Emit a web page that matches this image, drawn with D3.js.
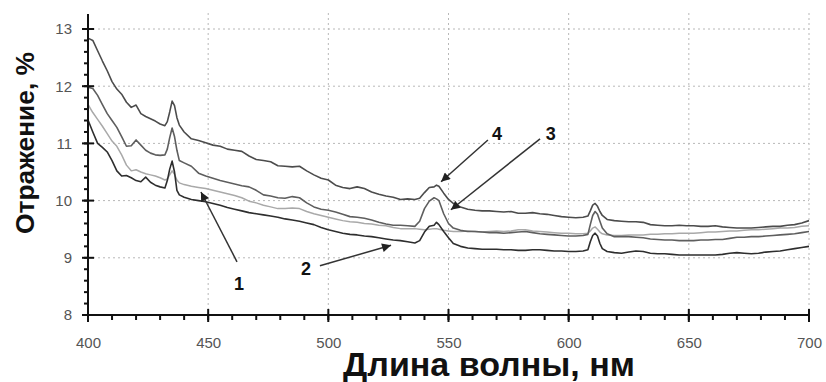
<!DOCTYPE html>
<html>
<head>
<meta charset="utf-8">
<script src="https://cdn.jsdelivr.net/npm/d3@7"></script>
<style>
  html, body { margin: 0; padding: 0; background: #fff; }
  svg { display: block; }
  text { font-family: "Liberation Sans", Arial, sans-serif; }
</style>
</head>
<body>
<svg id="chart" width="826" height="382"></svg>
<script>
// Wavelength grid (nm)
const wavelengths = [
  400,402,404,406,408,410,412,414,416,418,
  420,422,424,426,428,430,432,433,434,435,
  436,437,438,440,443,446,449,452,455,458,
  461,464,467,470,473,476,479,482,485,488,
  491,494,497,500,503,506,509,512,515,518,
  521,524,527,530,533,536,538,540,542,544,
  545,546,548,550,552,555,558,561,564,567,
  570,573,576,579,582,585,588,591,594,597,
  600,603,606,608,609,610,611,612,613,614,
  616,619,622,625,628,631,634,637,640,643,
  646,649,652,655,658,661,664,667,670,673,
  676,679,682,685,688,691,694,697,700
];

// Reflectance, % — sample 4
const curve4 = [
  12.84,12.80,12.62,12.44,12.27,12.08,11.95,11.86,11.72,11.63,
  11.67,11.52,11.47,11.43,11.39,11.34,11.31,11.38,11.55,11.74,
  11.66,11.45,11.32,11.20,11.08,11.05,11.01,10.97,10.95,10.90,
  10.88,10.86,10.78,10.72,10.70,10.68,10.61,10.60,10.59,10.60,
  10.52,10.45,10.39,10.36,10.27,10.23,10.21,10.24,10.21,10.15,
  10.11,10.08,10.06,10.02,10.03,10.02,10.04,10.14,10.23,10.24,
  10.27,10.25,10.13,10.02,9.95,9.89,9.85,9.83,9.82,9.82,
  9.81,9.80,9.81,9.78,9.78,9.79,9.77,9.76,9.74,9.72,
  9.71,9.70,9.71,9.73,9.82,9.92,9.95,9.90,9.81,9.74,
  9.67,9.65,9.64,9.63,9.63,9.62,9.58,9.57,9.56,9.56,
  9.57,9.56,9.56,9.55,9.55,9.56,9.54,9.53,9.52,9.52,
  9.52,9.53,9.54,9.55,9.55,9.57,9.58,9.61,9.65
];

// Reflectance, % — sample 3
const curve3 = [
  11.98,11.96,11.84,11.68,11.52,11.40,11.28,11.12,10.95,10.96,
  11.06,10.97,10.88,10.83,10.80,10.79,10.80,10.90,11.10,11.27,
  11.12,10.88,10.70,10.66,10.60,10.48,10.43,10.39,10.35,10.32,
  10.29,10.26,10.24,10.18,10.10,10.08,10.05,10.04,10.07,10.05,
  9.96,9.89,9.85,9.83,9.80,9.76,9.72,9.71,9.69,9.66,
  9.62,9.59,9.57,9.57,9.56,9.55,9.64,9.86,9.99,10.05,
  10.03,10.00,9.77,9.60,9.52,9.48,9.46,9.46,9.45,9.44,
  9.44,9.43,9.44,9.45,9.46,9.44,9.42,9.41,9.40,9.39,
  9.38,9.38,9.39,9.41,9.58,9.74,9.81,9.76,9.64,9.52,
  9.42,9.37,9.37,9.37,9.36,9.35,9.33,9.32,9.31,9.31,
  9.30,9.30,9.30,9.31,9.31,9.32,9.32,9.34,9.36,9.36,
  9.37,9.37,9.38,9.39,9.40,9.41,9.42,9.44,9.46
];

// Reflectance, % — sample 1
const curve1 = [
  11.68,11.54,11.42,11.30,11.17,11.04,10.95,10.80,10.62,10.52,
  10.54,10.50,10.47,10.45,10.43,10.40,10.36,10.38,10.45,10.52,
  10.46,10.36,10.31,10.28,10.25,10.23,10.21,10.18,10.15,10.12,
  10.09,10.05,9.99,9.96,9.92,9.89,9.86,9.86,9.87,9.86,
  9.81,9.77,9.74,9.71,9.68,9.65,9.63,9.62,9.60,9.59,
  9.57,9.56,9.53,9.51,9.51,9.51,9.50,9.49,9.50,9.51,
  9.51,9.50,9.48,9.47,9.46,9.46,9.47,9.46,9.45,9.46,
  9.47,9.46,9.47,9.49,9.49,9.47,9.46,9.45,9.44,9.43,
  9.43,9.42,9.42,9.43,9.47,9.52,9.54,9.50,9.45,9.42,
  9.40,9.39,9.39,9.40,9.40,9.40,9.41,9.41,9.42,9.42,
  9.43,9.43,9.43,9.44,9.45,9.45,9.46,9.47,9.47,9.48,
  9.49,9.49,9.50,9.51,9.52,9.52,9.53,9.55,9.56
];

// Reflectance, % — sample 2
const curve2 = [
  11.41,11.20,11.00,10.93,10.85,10.70,10.52,10.43,10.44,10.40,
  10.35,10.33,10.41,10.32,10.27,10.24,10.22,10.35,10.55,10.69,
  10.50,10.18,10.10,10.06,10.02,10.00,9.98,9.95,9.92,9.88,
  9.85,9.82,9.79,9.77,9.75,9.73,9.71,9.68,9.66,9.64,
  9.61,9.58,9.53,9.49,9.46,9.43,9.41,9.40,9.38,9.37,
  9.35,9.33,9.31,9.30,9.28,9.26,9.30,9.45,9.55,9.57,
  9.62,9.58,9.46,9.35,9.25,9.20,9.17,9.16,9.15,9.15,
  9.15,9.14,9.14,9.13,9.13,9.14,9.14,9.13,9.12,9.12,
  9.11,9.11,9.12,9.14,9.28,9.39,9.43,9.38,9.25,9.16,
  9.11,9.09,9.08,9.10,9.12,9.11,9.08,9.07,9.07,9.06,
  9.05,9.05,9.05,9.05,9.05,9.05,9.06,9.08,9.09,9.08,
  9.07,9.08,9.10,9.11,9.12,9.14,9.16,9.18,9.20
];

const xTicks = [400, 450, 500, 550, 600, 650, 700];
const yTicks = [8, 9, 10, 11, 12, 13];
const xMinorTicks = d3.range(400, 701, 10);
const yMinorTicks = d3.range(8, 13.01, 0.2);

// Arrow annotations: label text, label anchor, arrow tail and tip (data units)
const callouts = [
  { label: "1", lx: 462.8, ly: 8.44, from: [462.0, 8.93], to: [447.0, 10.15] },
  { label: "2", lx: 490.7, ly: 8.70, from: [496.5, 8.86], to: [526.1, 9.22] },
  { label: "4", lx: 570.2, ly: 11.06, from: [566.4, 11.06], to: [546.9, 10.33] },
  { label: "3", lx: 592.6, ly: 11.06, from: [588.1, 11.08], to: [551.0, 9.84] }
];

const series = [
  { name: "1", values: curve1, color: "#a9a9a9", width: 1.5 },
  { name: "3", values: curve3, color: "#5e5e5e", width: 1.6 },
  { name: "4", values: curve4, color: "#4c4c4c", width: 1.6 },
  { name: "2", values: curve2, color: "#2e2e2e", width: 1.6 }
];

const svg = d3.select("#chart");
const x = d3.scaleLinear().domain([400, 700]).range([88, 809]);
const y = d3.scaleLinear().domain([8, 13]).range([315, 29]);
const plotTop = 13;
const x0 = x(400), y0 = y(8);

// Dotted grid
const grid = svg.append("g").attr("stroke", "#b8b8b8").attr("stroke-width", 1)
  .attr("stroke-dasharray", "2,3");
grid.selectAll("line.v").data(xTicks.slice(1)).join("line").attr("class", "v")
  .attr("x1", d => x(d)).attr("x2", d => x(d))
  .attr("y1", plotTop).attr("y2", y0);
grid.selectAll("line.h").data(yTicks.slice(1)).join("line").attr("class", "h")
  .attr("x1", x0).attr("x2", x(700))
  .attr("y1", d => y(d)).attr("y2", d => y(d));

// Spectra
const line = d3.line()
  .x((d, i) => x(wavelengths[i]))
  .y(d => y(d));
svg.append("g").selectAll("path").data(series).join("path")
  .attr("fill", "none")
  .attr("stroke", d => d.color)
  .attr("stroke-width", d => d.width)
  .attr("stroke-linejoin", "round")
  .attr("d", d => line(d.values));

// Tick labels from d3 axes
const xAxis = svg.append("g").attr("transform", `translate(0,${y0})`)
  .call(d3.axisBottom(x).tickValues(xTicks).tickSize(0).tickPadding(22).tickSizeOuter(0));
xAxis.select(".domain").remove();
xAxis.selectAll(".tick line").remove();
xAxis.selectAll(".tick text").attr("font-size", 15).attr("fill", "#555")
  .attr("font-family", "Liberation Sans, Arial, sans-serif");

const yAxis = svg.append("g").attr("transform", `translate(${x0},0)`)
  .call(d3.axisLeft(y).tickValues(yTicks).tickFormat(d3.format("d"))
    .tickSize(0).tickPadding(16).tickSizeOuter(0));
yAxis.select(".domain").remove();
yAxis.selectAll(".tick line").remove();
yAxis.selectAll(".tick text").attr("font-size", 15).attr("fill", "#555")
  .attr("font-family", "Liberation Sans, Arial, sans-serif");

// Axis lines and tick marks as filled bars
const frame = svg.append("g").attr("fill", "#111");
frame.append("rect").attr("x", x0 - 1).attr("y", y0 - 1).attr("width", x(700) - x0 + 2).attr("height", 2);
frame.append("rect").attr("x", x0 - 1).attr("y", plotTop + 1).attr("width", 2).attr("height", y0 - plotTop);
frame.selectAll("rect.xm").data(xMinorTicks).join("rect").attr("class", "xm")
  .attr("x", d => x(d) - 1).attr("y", y0).attr("width", 2).attr("height", 5);
frame.selectAll("rect.xM").data(xTicks).join("rect").attr("class", "xM")
  .attr("x", d => x(d) - 1).attr("y", y0 - 6).attr("width", 2).attr("height", 13);
frame.selectAll("rect.ym").data(yMinorTicks).join("rect").attr("class", "ym")
  .attr("x", x0 - 4).attr("y", d => y(d) - 1).attr("width", 4).attr("height", 2);
frame.selectAll("rect.yM").data(yTicks).join("rect").attr("class", "yM")
  .attr("x", x0 - 6).attr("y", d => y(d) - 1).attr("width", 12).attr("height", 2);

// Axis titles, sized to their span
function fitText(sel, target) {
  const len = sel.node().getComputedTextLength();
  const fs = parseFloat(sel.attr("font-size"));
  sel.attr("font-size", (fs * target / len).toFixed(2));
}
const xTitle = svg.append("text")
  .attr("x", 489).attr("y", 376)
  .attr("text-anchor", "middle")
  .attr("font-weight", "bold").attr("font-size", 28).attr("fill", "#111")
  .text("Длина волны, нм");
fitText(xTitle, 292);

const yTitle = svg.append("text")
  .attr("transform", "translate(34,143) rotate(-90)")
  .attr("text-anchor", "middle")
  .attr("font-weight", "bold").attr("font-size", 26).attr("fill", "#111")
  .text("Отражение, %");
fitText(yTitle, 182);

// Callout arrows
const defs = svg.append("defs");
defs.append("marker")
  .attr("id", "head").attr("viewBox", "0 0 10 10")
  .attr("refX", 10).attr("refY", 5)
  .attr("markerWidth", 7).attr("markerHeight", 6)
  .attr("markerUnits", "strokeWidth")
  .attr("orient", "auto")
  .append("path").attr("d", "M0,0 L10,5 L0,10 Z").attr("fill", "#222");

const notes = svg.append("g");
notes.selectAll("line").data(callouts).join("line")
  .attr("x1", d => x(d.from[0])).attr("y1", d => y(d.from[1]))
  .attr("x2", d => x(d.to[0])).attr("y2", d => y(d.to[1]))
  .attr("stroke", "#333").attr("stroke-width", 1.5)
  .attr("marker-end", "url(#head)");
notes.selectAll("text").data(callouts).join("text")
  .attr("x", d => x(d.lx)).attr("y", d => y(d.ly))
  .attr("text-anchor", "middle")
  .attr("font-weight", "bold").attr("font-size", 18).attr("fill", "#111")
  .text(d => d.label);
</script>
</body>
</html>
